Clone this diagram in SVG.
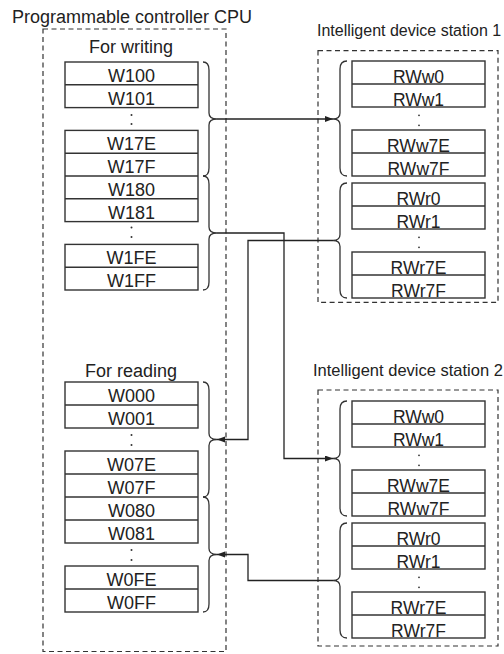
<svg xmlns="http://www.w3.org/2000/svg" width="504" height="654" viewBox="0 0 504 654">
<defs>
<style>
.bg{fill:#fff}
.frame{fill:none;stroke:#333;stroke-width:1.2;stroke-dasharray:5 3.5}
.cell{fill:#fff;stroke:#333;stroke-width:1.4}
.div{stroke:#333;stroke-width:1.4}
.brace{fill:none;stroke:#333;stroke-width:1.3}
.conn{fill:none;stroke:#222;stroke-width:1.3}
.dot{fill:#333}
text{font-family:"Liberation Sans",Arial,sans-serif;fill:#222}
.title{font-size:18px}
.st{font-size:16px}
.sub{font-size:18px;text-anchor:middle}
.w{font-size:18px;text-anchor:middle}
.rw{font-size:17.5px;text-anchor:middle}
</style>
<marker id="ah" markerWidth="9" markerHeight="7" refX="8" refY="3" orient="auto" markerUnits="userSpaceOnUse">
<path d="M0,0 L8,3 L0,6 z" fill="#222"/>
</marker>
</defs>
<rect class="bg" x="0" y="0" width="504" height="654"/>

<g id="cpu">
<text class="title" x="12" y="22.5">Programmable controller CPU</text>
<rect class="frame" x="43" y="29" width="183" height="622.5"/>
<text class="sub" x="131" y="53.3">For writing</text>
<text class="sub" x="131" y="377">For reading</text>
</g>

<g id="cpu-write">
<rect class="cell" x="65" y="62" width="133" height="45.6"/>
<line class="div" x1="65" y1="84.8" x2="198" y2="84.8"/>
<text class="w" x="131.5" y="81.7">W100</text>
<text class="w" x="131.5" y="104.5">W101</text>
<circle class="dot" cx="131.5" cy="115" r="1"/>
<circle class="dot" cx="131.5" cy="124" r="1"/>
<rect class="cell" x="65" y="130.4" width="133" height="91.2"/>
<line class="div" x1="65" y1="153.2" x2="198" y2="153.2"/>
<line class="div" x1="65" y1="176" x2="198" y2="176"/>
<line class="div" x1="65" y1="198.8" x2="198" y2="198.8"/>
<text class="w" x="131.5" y="150.1">W17E</text>
<text class="w" x="131.5" y="172.9">W17F</text>
<text class="w" x="131.5" y="195.7">W180</text>
<text class="w" x="131.5" y="218.5">W181</text>
<circle class="dot" cx="131.5" cy="227.5" r="1"/>
<circle class="dot" cx="131.5" cy="237" r="1"/>
<rect class="cell" x="65" y="244.4" width="133" height="45.6"/>
<line class="div" x1="65" y1="267.2" x2="198" y2="267.2"/>
<text class="w" x="131.5" y="264.1">W1FE</text>
<text class="w" x="131.5" y="286.9">W1FF</text>
<path class="brace" d="M203 62 Q209 62 209 70 L209 113 Q209 119 217 119 Q209 119 209 125 L209 168 Q209 176 203 176"/>
<path class="brace" d="M203 176 Q209 176 209 184 L209 227 Q209 233 217 233 Q209 233 209 239 L209 282 Q209 290 203 290"/>
</g>

<g id="cpu-read">
<rect class="cell" x="65" y="382" width="133" height="46"/>
<line class="div" x1="65" y1="405" x2="198" y2="405"/>
<text class="w" x="131.5" y="401.7">W000</text>
<text class="w" x="131.5" y="424.7">W001</text>
<circle class="dot" cx="131.5" cy="435" r="1"/>
<circle class="dot" cx="131.5" cy="445" r="1"/>
<rect class="cell" x="65" y="451" width="133" height="92"/>
<line class="div" x1="65" y1="474" x2="198" y2="474"/>
<line class="div" x1="65" y1="497" x2="198" y2="497"/>
<line class="div" x1="65" y1="520" x2="198" y2="520"/>
<text class="w" x="131.5" y="470.7">W07E</text>
<text class="w" x="131.5" y="493.7">W07F</text>
<text class="w" x="131.5" y="516.7">W080</text>
<text class="w" x="131.5" y="539.7">W081</text>
<circle class="dot" cx="131.5" cy="550" r="1"/>
<circle class="dot" cx="131.5" cy="560" r="1"/>
<rect class="cell" x="65" y="566" width="133" height="46"/>
<line class="div" x1="65" y1="589" x2="198" y2="589"/>
<text class="w" x="131.5" y="585.7">W0FE</text>
<text class="w" x="131.5" y="608.7">W0FF</text>
<path class="brace" d="M203 382 Q209 382 209 390 L209 433.5 Q209 439.5 217 439.5 Q209 439.5 209 445.5 L209 489 Q209 497 203 497"/>
<path class="brace" d="M203 497 Q209 497 209 505 L209 548.5 Q209 554.5 217 554.5 Q209 554.5 209 560.5 L209 604 Q209 612 203 612"/>
</g>

<g id="station1">
<text class="st" x="317" y="36">Intelligent device station 1</text>
<rect class="frame" x="318" y="50.7" width="180" height="251.6"/>
<rect class="cell" x="352" y="61" width="133" height="46"/>
<line class="div" x1="352" y1="84" x2="485" y2="84"/>
<text class="rw" x="418.5" y="82.5">RWw0</text>
<text class="rw" x="418.5" y="105.5">RWw1</text>
<circle class="dot" cx="419" cy="115.3" r="0.9"/>
<circle class="dot" cx="419" cy="125.3" r="0.9"/>
<rect class="cell" x="352" y="130" width="133" height="46"/>
<line class="div" x1="352" y1="153" x2="485" y2="153"/>
<text class="rw" x="418.5" y="151.5">RWw7E</text>
<text class="rw" x="418.5" y="174.5">RWw7F</text>
<rect class="cell" x="352" y="183" width="133" height="46"/>
<line class="div" x1="352" y1="206" x2="485" y2="206"/>
<text class="rw" x="418.5" y="204.5">RWr0</text>
<text class="rw" x="418.5" y="227.5">RWr1</text>
<circle class="dot" cx="419" cy="237.3" r="0.9"/>
<circle class="dot" cx="419" cy="247.3" r="0.9"/>
<rect class="cell" x="352" y="252" width="133" height="46"/>
<line class="div" x1="352" y1="275" x2="485" y2="275"/>
<text class="rw" x="418.5" y="273.5">RWr7E</text>
<text class="rw" x="418.5" y="296.5">RWr7F</text>
<path class="brace" d="M347 61 Q340 61 340 69 L340 113 Q340 119 333 119 Q340 119 340 125 L340 168 Q340 176 347 176"/>
<path class="brace" d="M347 183 Q340 183 340 191 L340 234.5 Q340 240.5 333 240.5 Q340 240.5 340 246.5 L340 290 Q340 298 347 298"/>
</g>

<g id="station2">
<text class="st" x="313" y="376" style="font-size:16.5px">Intelligent device station 2</text>
<rect class="frame" x="318" y="390" width="180" height="256"/>
<rect class="cell" x="352" y="401" width="133" height="46"/>
<line class="div" x1="352" y1="424" x2="485" y2="424"/>
<text class="rw" x="418.5" y="422.5">RWw0</text>
<text class="rw" x="418.5" y="445.5">RWw1</text>
<circle class="dot" cx="419" cy="455.3" r="0.9"/>
<circle class="dot" cx="419" cy="465.3" r="0.9"/>
<rect class="cell" x="352" y="470" width="133" height="46"/>
<line class="div" x1="352" y1="493" x2="485" y2="493"/>
<text class="rw" x="418.5" y="491.5">RWw7E</text>
<text class="rw" x="418.5" y="514.5">RWw7F</text>
<rect class="cell" x="352" y="523" width="133" height="46"/>
<line class="div" x1="352" y1="546" x2="485" y2="546"/>
<text class="rw" x="418.5" y="544.5">RWr0</text>
<text class="rw" x="418.5" y="567.5">RWr1</text>
<circle class="dot" cx="419" cy="577.3" r="0.9"/>
<circle class="dot" cx="419" cy="587.3" r="0.9"/>
<rect class="cell" x="352" y="592" width="133" height="46"/>
<line class="div" x1="352" y1="615" x2="485" y2="615"/>
<text class="rw" x="418.5" y="613.5">RWr7E</text>
<text class="rw" x="418.5" y="636.5">RWr7F</text>
<path class="brace" d="M347 401 Q340 401 340 409 L340 452.5 Q340 458.5 333 458.5 Q340 458.5 340 464.5 L340 508 Q340 516 347 516"/>
<path class="brace" d="M347 523 Q340 523 340 531 L340 574.5 Q340 580.5 333 580.5 Q340 580.5 340 586.5 L340 630 Q340 638 347 638"/>
</g>

<g id="connectors">
<path class="conn" d="M217 119 H333" marker-end="url(#ah)"/>
<path class="conn" d="M217 233 H284 V458.5 H333" marker-end="url(#ah)"/>
<path class="conn" d="M333 240.5 H248 V439.5 H217" marker-end="url(#ah)"/>
<path class="conn" d="M333 580.5 H248 V554.5 H217" marker-end="url(#ah)"/>
</g>
</svg>
